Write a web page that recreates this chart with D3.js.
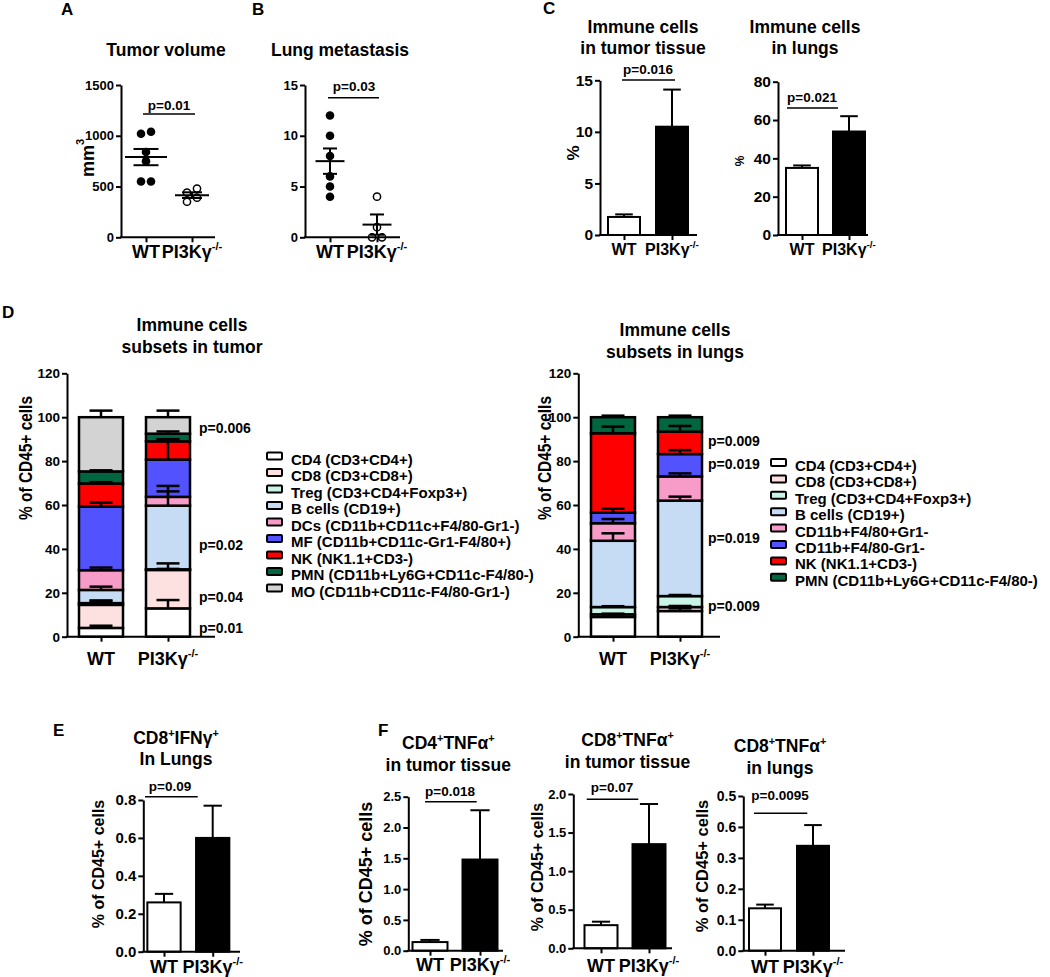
<!DOCTYPE html>
<html><head><meta charset="utf-8">
<script src="https://cdn.jsdelivr.net/npm/d3@7"></script>
<style>
body{margin:0;background:#fff}
svg{display:block}
</style></head><body>
<svg id="c" width="1050" height="977"></svg>
<script>
// ---------------- DATA ----------------
const groups = ["WT", "KO"];
const groupLabels = [["WT"], ["PI3Kγ", {sup: "-/-"}]];

// A: tumor volume (mm3)
const tumorVolWT = [1040, 1020, 840, 750, 550, 550];
const tumorVolKO = [480, 440, 390, 350];
const tumorVolMean = [790, 415];
const tumorVolSem = [80, 28];
const tumorVolTicks = [0, 500, 1000, 1500];

// B: lung metastasis
const lungMetWT = [12, 10, 8, 6, 5, 4];
const lungMetKO = [4, 1, 0, 0];
const lungMetMean = [7.5, 1.25];
const lungMetSem = [1.25, 1.0];
const lungMetTicks = [0, 5, 10, 15];

// C: immune cells (%)
const immTumorMean = [1.75, 10.5];
const immTumorSem = [0.25, 3.6];
const immTumorTicks = [0, 5, 10, 15];
const immLungMean = [35, 54];
const immLungSem = [1.3, 8];
const immLungTicks = [0, 20, 40, 60, 80];

// D: subsets in tumor
const tumorSubsets = ["CD4 (CD3+CD4+)", "CD8 (CD3+CD8+)", "Treg (CD3+CD4+Foxp3+)", "B cells (CD19+)",
  "DCs (CD11b+CD11c+F4/80-Gr1-)", "MF  (CD11b+CD11c-Gr1-F4/80+)", "NK (NK1.1+CD3-)",
  "PMN  (CD11b+Ly6G+CD11c-F4/80-)", "MO  (CD11b+CD11c-F4/80-Gr1-)"];
const tumorColors = ["#ffffff", "#fde0e0", "#c9f5e6", "#c6dcf5", "#f79cc8", "#5252ff", "#ff0000", "#006640", "#d3d3d3"];
const tumorWT = [4, 10.5, 0.8, 6, 9, 29, 10.5, 5.5, 24.7];
const tumorWTsem = [1, 1.8, 1.2, 1.5, 1.2, 1.8, 0.6, 0.5, 3];
const tumorKO = [12.9, 17.5, 0.3, 29, 4, 17, 8.3, 3.5, 7.5];
const tumorKOsem = [3.8, 3, 0.2, 6.5, 5, 9, 1, 1, 3];
const tumorP = ["p=0.006", "p=0.02", "p=0.04", "p=0.01"];
const tumorPAt = [95, 42, 18, 4]; // y-values (%) where the p labels sit

// D: subsets in lungs
const lungSubsets = ["CD4 (CD3+CD4+)", "CD8 (CD3+CD8+)", "Treg (CD3+CD4+Foxp3+)", "B cells (CD19+)",
  "CD11b+F4/80+Gr1-", "CD11b+F4/80-Gr1-", "NK (NK1.1+CD3-)", "PMN  (CD11b+Ly6G+CD11c-F4/80-)"];
const lungColors = ["#ffffff", "#fde0e0", "#c9f5e6", "#c6dcf5", "#f79cc8", "#5252ff", "#ff0000", "#006640"];
const lungWT = [9, 1.2, 3.3, 30.2, 8, 4.8, 36.2, 7.3];
const lungWTsem = [1.2, 0.3, 0.4, 3.4, 1.9, 1.8, 3, 0.7];
const lungKO = [11.7, 1.8, 5, 43.5, 11, 10.2, 10.2, 6.6];
const lungKOsem = [1.2, 0.5, 0.5, 1.8, 1.4, 1.8, 2.6, 0.7];
const lungP = ["p=0.009", "p=0.019", "p=0.019", "p=0.009"];
const lungPAt = [89, 78.5, 45, 14];
const subsetTicks = [0, 20, 40, 60, 80, 100, 120];

// E
const ifngMean = [0.26, 0.6];
const ifngSem = [0.045, 0.17];
const ifngTicks = [0, 0.2, 0.4, 0.6, 0.8];

// F
const cd4TnfTumorMean = [0.14, 1.48];
const cd4TnfTumorSem = [0.035, 0.8];
const cd4TnfTumorTicks = [0, 0.5, 1, 1.5, 2, 2.5];
const cd8TnfTumorMean = [0.3, 1.35];
const cd8TnfTumorSem = [0.045, 0.52];
const cd8TnfTumorTicks = [0, 0.5, 1, 1.5, 2];
const cd8TnfLungMean = [0.137, 0.339];
const cd8TnfLungSem = [0.012, 0.067];
const cd8TnfLungTicks = [0, 0.1, 0.2, 0.3, 0.4, 0.5];
const cd8TnfLungTickLabels = ["0.0", "0.1", "0.2", "0.3", "0.6", "0.5"];

// ---------------- HELPERS ----------------
const FONT = '"Liberation Sans", Arial, Helvetica, sans-serif';
const svg = d3.select("#c").attr("font-family", FONT).attr("font-weight", "bold");

function rich(g, x, y, parts, size, anchor = "middle", rotate = false, extra = {}) {
  const t = g.append("text").attr("text-anchor", anchor).attr("font-size", size).attr("fill", "#000");
  if (rotate) t.attr("transform", `translate(${x},${y}) rotate(-90)`).attr("dominant-baseline", "central");
  else t.attr("x", x).attr("y", y);
  Object.entries(extra).forEach(([k, v]) => t.attr(k, v));
  let shifted = 0;
  parts.forEach(p => {
    if (typeof p === "string") {
      const s = t.append("tspan").text(p);
      if (shifted) { s.attr("dy", shifted); shifted = 0; }
    } else {
      const d = -0.42 * size;
      t.append("tspan").attr("font-size", size * 0.62).attr("dy", d).text(p.sup);
      shifted = -d;
    }
  });
  return t;
}

function yAxis(g, y, x, ticks, fmt, size) {
  const ax = d3.axisLeft(y).tickValues(ticks).tickFormat(fmt).tickSize(5).tickSizeOuter(0).tickPadding(2);
  const a = g.append("g").attr("transform", `translate(${x},0)`).call(ax)
    .attr("font-family", FONT).attr("font-size", size).attr("font-weight", "bold");
  a.select(".domain").attr("stroke-width", 2);
  a.selectAll(".tick line").attr("stroke-width", 2);
  a.selectAll(".tick text").attr("fill", "#000");
}

function xAxis(g, x, y0, xStart, xEnd, size, baseline) {
  g.append("line").attr("x1", xStart - 1).attr("x2", xEnd).attr("y1", y0).attr("y2", y0)
    .attr("stroke", "#000").attr("stroke-width", 2);
  const ax = d3.axisBottom(x).tickSize(5).tickFormat("").tickSizeOuter(0);
  const a = g.append("g").attr("transform", `translate(0,${y0})`).call(ax);
  a.select(".domain").remove();
  a.selectAll(".tick line").attr("stroke-width", 2);
  groups.forEach((gr, i) => rich(g, x(gr), baseline, groupLabels[i], size));
}

function errBar(g, cx, y1, y2, capW, sw = 2) {
  g.append("line").attr("x1", cx).attr("x2", cx).attr("y1", y1).attr("y2", y2).attr("stroke", "#000").attr("stroke-width", sw);
  g.append("line").attr("x1", cx - capW / 2).attr("x2", cx + capW / 2).attr("y1", y2).attr("y2", y2).attr("stroke", "#000").attr("stroke-width", sw);
}

function pBar(g, text, tx, ty, x1, x2, ly, size) {
  g.append("text").attr("x", tx).attr("y", ty).attr("text-anchor", "middle").attr("font-size", size).text(text);
  g.append("line").attr("x1", x1).attr("x2", x2).attr("y1", ly).attr("y2", ly).attr("stroke", "#000").attr("stroke-width", 1.5);
}

function swarm(y, vals, r) {
  const pts = vals.map(v => ({v, py: y(v), ox: 0}));
  const placed = [];
  const cands = [0, -5, 5, -10, 10, -15, 15, -20, 20];
  pts.forEach(p => {
    for (const o of cands) {
      if (placed.every(q => Math.hypot(q.ox - o, q.py - p.py) >= 2 * r + 0.5)) { p.ox = o; break; }
    }
    placed.push(p);
  });
  // center each cluster
  const sorted = [...pts].sort((a, b) => a.py - b.py);
  let cl = [sorted[0]];
  const clusters = [cl];
  for (let i = 1; i < sorted.length; i++) {
    if (sorted[i].py - sorted[i - 1].py < 2 * r) cl.push(sorted[i]);
    else { cl = [sorted[i]]; clusters.push(cl); }
  }
  clusters.forEach(c => { const m = d3.mean(c, d => d.ox); c.forEach(d => d.ox -= m); });
  return pts;
}

function scatterGroup(g, x, y, gr, vals, mean, sem, open, r, meanW, capW) {
  const cx = x(gr);
  swarm(y, vals, r).forEach(p => {
    g.append("circle").attr("cx", cx + p.ox).attr("cy", p.py).attr("r", open ? r - 0.7 : r)
      .attr("fill", open ? "#fff" : "#000").attr("stroke", "#000").attr("stroke-width", open ? 1.5 : 0);
  });
  g.append("line").attr("x1", cx - meanW / 2).attr("x2", cx + meanW / 2).attr("y1", y(mean)).attr("y2", y(mean)).attr("stroke", "#000").attr("stroke-width", 2);
  g.append("line").attr("x1", cx).attr("x2", cx).attr("y1", y(mean - sem)).attr("y2", y(mean + sem)).attr("stroke", "#000").attr("stroke-width", 2);
  [mean - sem, mean + sem].forEach(v => g.append("line").attr("x1", cx - capW / 2).attr("x2", cx + capW / 2).attr("y1", y(v)).attr("y2", y(v)).attr("stroke", "#000").attr("stroke-width", 2));
}

function barPanel(cfg) {
  const g = svg.append("g");
  const y = d3.scaleLinear().domain(cfg.domain).range([cfg.y0, cfg.y1]);
  const x = d3.scalePoint().domain(groups).range(cfg.centers);
  groups.forEach((gr, i) => {
    const top = y(cfg.mean[i]);
    errBar(g, x(gr), top, y(cfg.mean[i] + cfg.sem[i]), cfg.bw * 0.55);
    g.append("rect").attr("x", x(gr) - cfg.bw / 2).attr("y", top).attr("width", cfg.bw).attr("height", cfg.y0 - top)
      .attr("fill", i === 0 ? "#fff" : "#000").attr("stroke", "#000").attr("stroke-width", 2);
  });
  yAxis(g, y, cfg.ax, cfg.ticks, cfg.fmt, cfg.tickSize);
  xAxis(g, x, cfg.y0, cfg.ax, cfg.xEnd, cfg.xlSize, cfg.xlBase);
  cfg.title.forEach((t, i) => rich(g, cfg.titleX, cfg.titleY[i], t, cfg.titleSize || 17.5));
  rich(g, cfg.ylX, cfg.ylY, cfg.ylabel, cfg.ylSize, "middle", true);
  pBar(g, cfg.p, cfg.pX, cfg.pY, cfg.pl[0], cfg.pl[1], cfg.pl[2], cfg.pSize || 13.5);
  return g;
}

function stackPanel(cfg) {
  const g = svg.append("g");
  const y = d3.scaleLinear().domain([0, 120]).range([636.7, 373.3]);
  const x = d3.scalePoint().domain(groups).range(cfg.centers);
  const bw = 44;
  [[cfg.wt, cfg.wtSem], [cfg.ko, cfg.koSem]].forEach(([vals, sems], gi) => {
    const cx = x(groups[gi]);
    const tops = d3.cumsum(vals);
    vals.forEach((v, i) => {
      const base = tops[i] - v;
      g.append("rect").attr("x", cx - bw / 2).attr("y", y(tops[i])).attr("width", bw).attr("height", y(base) - y(tops[i]))
        .attr("fill", cfg.colors[i]).attr("stroke", "#000").attr("stroke-width", 2.5);
    });
    vals.forEach((v, i) => errBar(g, cx, y(tops[i]), y(tops[i] + sems[i]), 23, 2.5));
  });
  yAxis(g, y, cfg.ax, subsetTicks, d3.format("d"), 13.5);
  xAxis(g, x, 636.7, cfg.ax, cfg.xEnd, 18, 665);
  cfg.title.forEach((t, i) => rich(g, cfg.titleX, cfg.titleY[i], [t], 17.5));
  rich(g, cfg.ylX, 458, ["% of CD45+ cells"], 17.5, "middle", true, {textLength: 124, lengthAdjust: "spacingAndGlyphs"});
  cfg.p.forEach((p, i) => g.append("text").attr("x", cfg.pX).attr("y", y(cfg.pAt[i])).attr("dominant-baseline", "central")
    .attr("font-size", 14).text(p));
  cfg.legend.forEach((name, i) => {
    const ly = cfg.legY + i * cfg.legStep;
    g.append("rect").attr("x", cfg.legX).attr("y", ly - 3.5).attr("width", 15).attr("height", 7).attr("rx", 1)
      .attr("fill", cfg.colors[i]).attr("stroke", "#000").attr("stroke-width", 2);
    g.append("text").attr("x", cfg.legX + 24).attr("y", ly + 3).attr("dominant-baseline", "central").attr("font-size", 15).text(name);
  });
}

// ---------------- PANEL LETTERS ----------------
[["A", 61, 15], ["B", 252, 15], ["C", 543, 14], ["D", 2, 318], ["E", 53, 736], ["F", 378, 736]].forEach(([t, x, y]) =>
  svg.append("text").attr("x", x).attr("y", y).attr("font-size", 17).text(t));

// ---------------- A ----------------
{
  const g = svg.append("g");
  const y = d3.scaleLinear().domain([0, 1500]).range([237.3, 85]);
  const x = d3.scalePoint().domain(groups).range([146, 192]);
  scatterGroup(g, x, y, "WT", tumorVolWT, tumorVolMean[0], tumorVolSem[0], false, 4.3, 42, 25);
  scatterGroup(g, x, y, "KO", tumorVolKO, tumorVolMean[1], tumorVolSem[1], true, 4.3, 34, 20);
  yAxis(g, y, 121, tumorVolTicks, d3.format("d"), 13);
  xAxis(g, x, 237.3, 121, 215, 18, 258);
  rich(g, 166, 56, ["Tumor volume"], 17.5);
  rich(g, 88, 158, ["mm", {sup: "3"}], 18, "middle", true);
  pBar(g, "p=0.01", 169, 110, 143, 195, 114, 13.5);
}
// ---------------- B ----------------
{
  const g = svg.append("g");
  const y = d3.scaleLinear().domain([0, 15]).range([237.3, 85]);
  const x = d3.scalePoint().domain(groups).range([330, 377]);
  scatterGroup(g, x, y, "WT", lungMetWT, lungMetMean[0], lungMetSem[0], false, 4.3, 29, 14);
  scatterGroup(g, x, y, "KO", lungMetKO, lungMetMean[1], lungMetSem[1], true, 4.3, 29, 14);
  yAxis(g, y, 305, lungMetTicks, d3.format("d"), 13);
  xAxis(g, x, 237.3, 305, 400, 18, 258);
  rich(g, 340, 56, ["Lung metastasis"], 17.5);
  pBar(g, "p=0.03", 354, 91, 328, 379, 97.7, 13.5);
}
// ---------------- C ----------------
barPanel({domain: [0, 15], y0: 235, y1: 80.3, centers: [624, 672], bw: 32, mean: immTumorMean, sem: immTumorSem,
  ax: 600, xEnd: 697, ticks: immTumorTicks, fmt: d3.format("d"), tickSize: 15.5, xlSize: 16, xlBase: 255,
  title: [["Immune cells"], ["in tumor tissue"]], titleX: 643, titleY: [33, 54],
  ylabel: ["%"], ylX: 573, ylY: 153, ylSize: 17, p: "p=0.016", pX: 648, pY: 74, pl: [622, 675, 80]});
barPanel({domain: [0, 80], y0: 235, y1: 81.7, centers: [802, 849], bw: 32, mean: immLungMean, sem: immLungSem,
  ax: 778, xEnd: 868, ticks: immLungTicks, fmt: d3.format("d"), tickSize: 15.5, xlSize: 16, xlBase: 255,
  title: [["Immune cells"], ["in lungs"]], titleX: 805, titleY: [33, 54],
  ylabel: ["%"], ylX: 739.5, ylY: 161, ylSize: 12, p: "p=0.021", pX: 812, pY: 102, pl: [787, 838, 108]});

// ---------------- D ----------------
stackPanel({centers: [101, 168], ax: 67, xEnd: 215, wt: tumorWT, wtSem: tumorWTsem, ko: tumorKO, koSem: tumorKOsem,
  colors: tumorColors, title: ["Immune cells", "subsets in tumor"], titleX: 192, titleY: [331, 353],
  ylX: 25.5, p: tumorP, pAt: tumorPAt, pX: 199, legend: tumorSubsets, legX: 267, legY: 456, legStep: 16.5});
stackPanel({centers: [613, 680], ax: 578.3, xEnd: 720, wt: lungWT, wtSem: lungWTsem, ko: lungKO, koSem: lungKOsem,
  colors: lungColors, title: ["Immune cells", "subsets in lungs"], titleX: 675, titleY: [336, 358],
  ylX: 545, p: lungP, pAt: lungPAt, pX: 708, legend: lungSubsets, legX: 771, legY: 462.5, legStep: 16.4});

// ---------------- E ----------------
barPanel({domain: [0, 0.8], y0: 951.7, y1: 800, centers: [164, 212.7], bw: 33.3, mean: ifngMean, sem: ifngSem,
  ax: 143.3, xEnd: 240, ticks: ifngTicks, fmt: d3.format(".1f"), tickSize: 15, xlSize: 18, xlBase: 973,
  title: [["CD8", {sup: "+"}, "IFNγ", {sup: "+"}], ["In Lungs"]], titleX: 176, titleY: [744, 765],
  ylabel: ["% of CD45+ cells"], ylX: 97.5, ylY: 864, ylSize: 16, p: "p=0.09", pX: 170, pY: 791, pl: [145, 197.7, 796.7]});

// ---------------- F ----------------
barPanel({domain: [0, 2.5], y0: 950.7, y1: 796.7, centers: [430, 480], bw: 35, mean: cd4TnfTumorMean, sem: cd4TnfTumorSem,
  ax: 408.3, xEnd: 503, ticks: cd4TnfTumorTicks, fmt: d3.format(".1f"), tickSize: 13, xlSize: 18, xlBase: 971,
  title: [["CD4", {sup: "+"}, "TNFα", {sup: "+"}], ["in tumor tissue"]], titleX: 448.3, titleY: [749, 771],
  ylabel: ["% of CD45+ cells"], ylX: 366, ylY: 874, ylSize: 18, p: "p=0.018", pX: 450, pY: 796, pl: [425, 476.7, 801.7]});
barPanel({domain: [0, 2], y0: 948.3, y1: 794, centers: [601, 649], bw: 33, mean: cd8TnfTumorMean, sem: cd8TnfTumorSem,
  ax: 573.3, xEnd: 672, ticks: cd8TnfTumorTicks, fmt: d3.format(".1f"), tickSize: 13, xlSize: 18, xlBase: 972,
  title: [["CD8", {sup: "+"}, "TNFα", {sup: "+"}], ["in tumor tissue"]], titleX: 627.5, titleY: [746, 768],
  ylabel: ["% of CD45+ cells"], ylX: 537, ylY: 867, ylSize: 16, p: "p=0.07", pX: 612, pY: 792, pl: [586.7, 638.3, 799.3]});
barPanel({domain: [0, 0.5], y0: 950.7, y1: 796, centers: [765, 813], bw: 32, mean: cd8TnfLungMean, sem: cd8TnfLungSem,
  ax: 743.3, xEnd: 845, ticks: cd8TnfLungTicks, fmt: (d, i) => cd8TnfLungTickLabels[i], tickSize: 14, xlSize: 18, xlBase: 973,
  title: [["CD8", {sup: "+"}, "TNFα", {sup: "+"}], ["in lungs"]], titleX: 780, titleY: [752, 774],
  ylabel: ["% of CD45+ cells"], ylX: 702, ylY: 866, ylSize: 16.5, p: "p=0.0095", pX: 780, pY: 800, pl: [754, 807.3, 813.3]});
</script>
</body></html>
